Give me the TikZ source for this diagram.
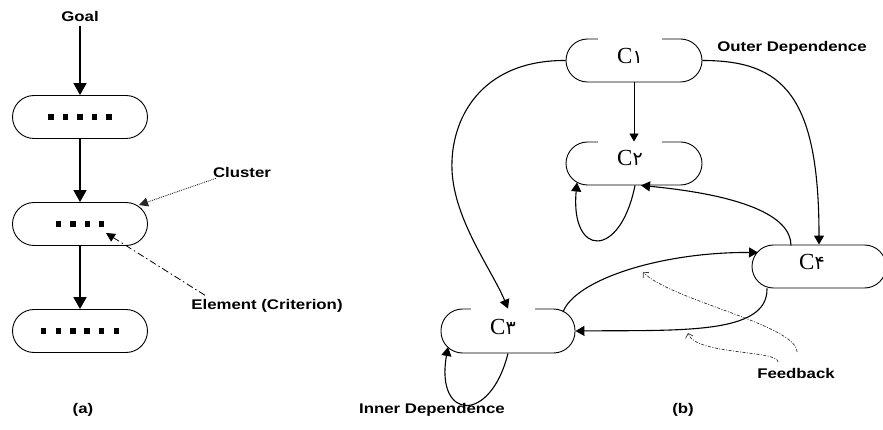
\documentclass[tikz,border=0pt]{standalone}
\usepackage{fontspec}
\usepackage{graphicx}
\setmainfont{Liberation Serif}
\setsansfont{Liberation Sans}
\newfontfamily\digfont[Script=Arabic]{DejaVu Sans}
\usetikzlibrary{arrows.meta,calc}
\newcommand{\lbl}[1]{\scalebox{1.2}[1]{\sffamily\bfseries\fontsize{14}{16}\selectfont #1}}
\newcommand{\cname}[1]{\fontsize{23}{26}\selectfont C{\digfont\fontsize{19}{24}\selectfont #1}}
\newcommand{\sqb}{\rule{5.5pt}{5.5pt}}
\newcommand{\gp}{\hspace{9pt}}
\tikzset{
  box/.style={draw, line width=0.9pt, rectangle, rounded corners=21.5pt,
    minimum width=135pt, minimum height=43pt, inner sep=0pt},
  ctext/.style={fill=white, inner sep=0pt, minimum width=64pt, minimum height=38pt},
  lab/.style={inner sep=1pt},
  thickarrow/.style={line width=1.8pt, -{Triangle[length=12pt,width=13pt]}},
  curvearrow/.style={line width=1.1pt, -{Triangle[length=9pt,width=10pt]}},
  clusterarrow/.style={line width=0.9pt, densely dotted, draw=black!85,
    -{Triangle[length=9pt,width=9pt]}},
  elementarrow/.style={line width=0.8pt, dash pattern=on 7pt off 3pt on 1.5pt off 3pt,
    -{Triangle[length=9pt,width=9pt]}},
  fbarrow/.style={line width=0.7pt, draw=black!80,
    dash pattern=on 3pt off 1.5pt on 1pt off 1.5pt,
    -{Straight Barb[length=4pt,width=8pt]}}
}
\begin{document}
\begin{tikzpicture}[x=1pt,y=-1pt]
\useasboundingbox (0,0) rectangle (883,430);

% ---------- (a) ----------
\node[lab] (goal) at (80,16) {\lbl{Goal}};
\node[box] (a1) at (80,117) {\sqb\gp\sqb\gp\sqb\gp\sqb\gp\sqb};
\node[box] (a2) at (80,224) {\sqb\gp\sqb\gp\sqb\gp\sqb};
\node[box] (a3) at (80,331) {\sqb\gp\sqb\gp\sqb\gp\sqb\gp\sqb\gp\sqb};
\coordinate (elemtip) at (106,233);

\draw[thickarrow, shorten <=4pt] (goal.south) -- (a1.north);
\draw[thickarrow] (a1.south) -- (a2.north);
\draw[thickarrow] (a2.south) -- (a3.north);

\node[lab] (cluster) at (242,172) {\lbl{Cluster}};
\node[lab] (element) at (267,306) {\lbl{Element (Criterion)}};
\draw[clusterarrow] ($(cluster.south west)+(4,0)$) -- ($(a2.center)+(59,-19)$);
\draw[elementarrow] ($(element.north)+(-62,-3)$) -- (elemtip);
\node[lab] (capa) at (83,410) {\lbl{(a)}};

% ---------- (b) ----------
\node[box, minimum width=136pt] (c1) at (634,60.5) {};
\node[box, minimum width=136pt] (c2) at (634,163.5) {};
\node[box, minimum width=134pt, minimum height=44pt] (c3) at (508,331) {};
\node[box, minimum width=134pt] (c4) at (819,266.5) {};

\node[ctext] (t1) at (630,56) {\cname{۱}};
\node[ctext] (t2) at (630,158) {\cname{۲}};
\node[ctext, fill=none] (t4) at (812,262) {\cname{۴}};
\node[ctext] (t3) at (503,327) {\cname{۳}};

\node[lab] (outer) at (792,48) {\lbl{Outer Dependence}};
\node[lab] (inner) at (432,410) {\lbl{Inner Dependence}};
\node[lab] (feedback) at (796,373) {\lbl{Feedback}};
\node[lab] (capb) at (683,410) {\lbl{(b)}};

% C1 -> C2
\draw[line width=0.9pt, -{Triangle[length=8pt,width=9pt]}] (c1.south) -- (c2.north);
% C1 -> C4 (outer dependence)
\draw[curvearrow] (c1.east) .. controls +(80,0) and +(0,-150) .. (c4.north);
% C1 -> C3
\draw[curvearrow] (c1.west) .. controls (480,60) and (450,120) .. (452,170)
  .. controls (454,220) and (492,270) .. (c3.north);
% C2 self loop
\draw[curvearrow] ($(c2.south)+(1,0)$) .. controls (620,260) and (570,257) .. ($(c2.center)+(-57,19)$);
% C4 -> C2
\draw[curvearrow] ($(c4.center)+(-28,-21)$) .. controls (791,215) and (740,195) .. ($(c2.south)+(7,0)$);
% C3 -> C4
\draw[curvearrow] ($(c3.center)+(55,-19)$) .. controls (575,280) and (660,252) .. ($(c4.center)+(-61,-14)$);
% C4 -> C3
\draw[curvearrow] ($(c4.south)+(-52,0)$) .. controls (768,335) and (680,330) .. (c3.east);
% C3 self loop
\draw[curvearrow] (c3.south) .. controls (490,425) and (435,420) .. ($(c3.center)+(-60,16)$);

% feedback pointers
\coordinate (fb1) at (797,352);
\coordinate (fb2) at (778,362);
\draw[fbarrow] (fb1) .. controls (797,325) and (670,300) .. (643,272);
\draw[fbarrow] (fb2) .. controls (778,350) and (695,355) .. (688,333);
\end{tikzpicture}
\end{document}
